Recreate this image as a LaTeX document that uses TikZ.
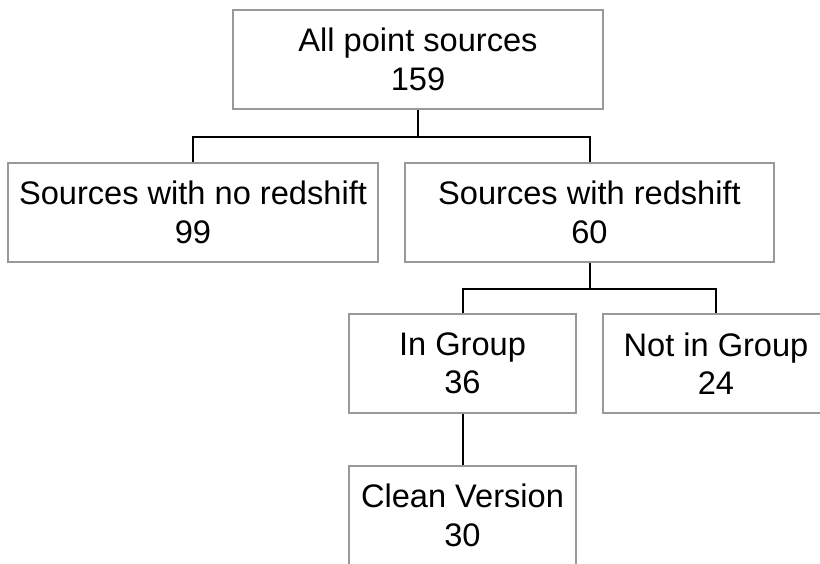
\documentclass[tikz,border=0pt]{standalone}
\usepackage{fontspec}
\setmainfont{Liberation Sans}
\usetikzlibrary{calc,positioning}

\tikzset{
	grp/.style={draw=black!40, line width=2pt, minimum height=99pt, inner sep=0pt,
		align=center, font=\fontsize{32.6}{38.5}\selectfont},
	link/.style={line width=2pt}
}

\begin{document}
\begin{tikzpicture}[x=1pt,y=-1pt]
		\useasboundingbox (0,0) rectangle (820,563);
		\clip (0,0) rectangle (820,563);
		% levels of the tree
		\node[grp, minimum width=370pt] (all)   at (418,59.5)    {All point sources\\159};
		\node[grp, minimum width=370pt] (nored) at (193,212.5)   {Sources with no redshift\\99};
		\node[grp, minimum width=369pt] (red)   at (589.5,212.5) {Sources with redshift\\60};
		\node[grp, minimum width=227pt] (ingrp) at (462.5,363.5) {In Group\\36};
		\node[grp, minimum width=226pt] (outgrp) at (716,363.5)  {Not in Group\\24};
		\node[grp, minimum width=227pt] (clean) at (462.5,515.5) {Clean Version\\30};
		
		\draw[link] (all.south) -- ++(0,27) coordinate (j1) -| (nored.north);
		\draw[link] (j1) -| (red.north);
		\draw[link] (red.south) -- ++(0,26) coordinate (j2) -| (ingrp.north);
		\draw[link] (j2) -| (outgrp.north);
		\draw[link] (ingrp.south) -- (clean.north);
	\end{tikzpicture}
\end{document}
